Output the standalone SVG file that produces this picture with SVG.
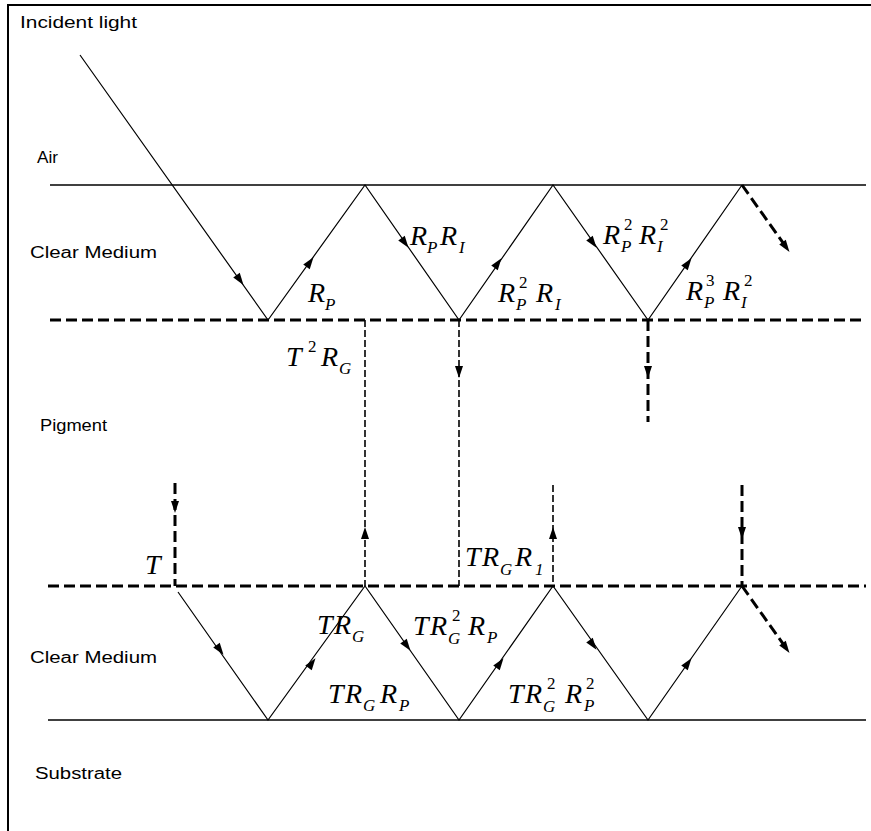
<svg xmlns="http://www.w3.org/2000/svg" xmlns:xlink="http://www.w3.org/1999/xlink" width="871" height="831" viewBox="0 0 871 831">
<style>
.t{font-family:"Liberation Sans",Arial,sans-serif;font-size:16px;fill:#000}
.m{font-family:"Liberation Serif","Times New Roman",serif;font-style:italic;font-size:28px;fill:#000}
.s{font-family:"Liberation Serif","Times New Roman",serif;font-style:italic;font-size:17px;fill:#000}
.sup{font-family:"Liberation Serif","Times New Roman",serif;font-size:17px;fill:#000}
.solid{stroke:#000;stroke-width:1.6;fill:none}
.ray{stroke:#000;stroke-width:1.2;fill:none}
.thick{stroke:#000;stroke-width:3;stroke-dasharray:11 5;fill:none}
.thin{stroke:#000;stroke-width:1.6;stroke-dasharray:7 3;fill:none}
</style>
<defs>
<path id="ah" d="M6,0 L-6,-4 L-6,4 Z" fill="#000"/>
</defs>
<rect width="871" height="831" fill="#fff"/>
<g id="frame">
<path d="M7,5 H871 M8,5 V831" stroke="#000" stroke-width="2" fill="none"/>
</g>
<g id="layers">
<line class="solid" x1="50" y1="185" x2="866" y2="185"/>
<line class="thick" x1="50" y1="320" x2="866" y2="320"/>
<line class="thick" x1="48" y1="586" x2="866" y2="586"/>
<line class="solid" x1="48" y1="720" x2="866" y2="720"/>
</g>
<g id="layer-names">
<text class="t" x="20" y="28" textLength="117" lengthAdjust="spacingAndGlyphs">Incident light</text>
<text class="t" x="37" y="163" textLength="21" lengthAdjust="spacingAndGlyphs">Air</text>
<text class="t" x="30" y="258" textLength="127" lengthAdjust="spacingAndGlyphs">Clear Medium</text>
<text class="t" x="40" y="431" textLength="67" lengthAdjust="spacingAndGlyphs">Pigment</text>
<text class="t" x="30" y="663" textLength="127" lengthAdjust="spacingAndGlyphs">Clear Medium</text>
<text class="t" x="35" y="779" textLength="87" lengthAdjust="spacingAndGlyphs">Substrate</text>
</g>
<g id="connectors">
<polyline class="ray" points="80,55 268,320 365,185 459,320 553,185 648,320 742,185"/>
<line class="thick" x1="742" y1="185" x2="786" y2="247" stroke-dasharray="8 4"/>
<line class="thin" x1="365" y1="320" x2="365" y2="586"/>
<line class="thin" x1="459" y1="320" x2="459" y2="586"/>
<line class="thick" x1="648" y1="320" x2="648" y2="422" stroke-dasharray="9 4"/>
<line class="thick" x1="175" y1="483" x2="175" y2="586" stroke-dasharray="9 4"/>
<line class="thin" x1="553" y1="485" x2="553" y2="586"/>
<line class="thick" x1="742" y1="485" x2="742" y2="586" stroke-dasharray="9 4"/>
<polyline class="ray" points="178,592 268,720 365,586 459,720 553,586 648,720 742,586"/>
<line class="thick" x1="742" y1="586" x2="786" y2="648" stroke-dasharray="8 4"/>
</g>
<g id="arrowheads">
<use xlink:href="#ah" transform="translate(240,280) rotate(54.5)"/>
<use xlink:href="#ah" transform="translate(310,262) rotate(-54.3)"/>
<use xlink:href="#ah" transform="translate(405,243) rotate(54.3)"/>
<use xlink:href="#ah" transform="translate(498,263) rotate(-54.3)"/>
<use xlink:href="#ah" transform="translate(593,243) rotate(54.3)"/>
<use xlink:href="#ah" transform="translate(688,263) rotate(-54.3)"/>
<use xlink:href="#ah" transform="translate(786,247) rotate(54.6)"/>
<use xlink:href="#ah" transform="translate(459,372) rotate(90)"/>
<use xlink:href="#ah" transform="translate(648,372) rotate(90)"/>
<use xlink:href="#ah" transform="translate(365,533) rotate(-90)"/>
<use xlink:href="#ah" transform="translate(553,533) rotate(-90)"/>
<use xlink:href="#ah" transform="translate(175,507) rotate(90)"/>
<use xlink:href="#ah" transform="translate(742,533) rotate(90)"/>
<use xlink:href="#ah" transform="translate(220,650) rotate(54.3)"/>
<use xlink:href="#ah" transform="translate(312,663) rotate(-54.3)"/>
<use xlink:href="#ah" transform="translate(407,646) rotate(54.3)"/>
<use xlink:href="#ah" transform="translate(500,663) rotate(-54.3)"/>
<use xlink:href="#ah" transform="translate(593,645) rotate(54.3)"/>
<use xlink:href="#ah" transform="translate(688,663) rotate(-54.3)"/>
<use xlink:href="#ah" transform="translate(786,648) rotate(54.6)"/>
</g>
<g id="labels">
<g id="lbl-rp"><text class="m" x="308" y="302">R</text><text class="s" x="325" y="310">P</text></g>
<g id="lbl-rpri"><text class="m" x="410" y="245">R</text><text class="s" x="427" y="253">P</text><text class="m" x="440" y="245">R</text><text class="s" x="459" y="253">I</text></g>
<g id="lbl-rp2ri"><text class="m" x="498" y="302">R</text><text class="sup" x="519" y="288">2</text><text class="s" x="516" y="310">P</text><text class="m" x="536" y="302">R</text><text class="s" x="555" y="310">I</text></g>
<g id="lbl-rp2ri2"><text class="m" x="603" y="244">R</text><text class="sup" x="624" y="230">2</text><text class="s" x="621" y="252">P</text><text class="m" x="639" y="244">R</text><text class="sup" x="660" y="230">2</text><text class="s" x="657" y="252">I</text></g>
<g id="lbl-rp3ri2"><text class="m" x="686" y="300">R</text><text class="sup" x="706" y="286">3</text><text class="s" x="704" y="308">P</text><text class="m" x="723" y="300">R</text><text class="sup" x="744" y="286">2</text><text class="s" x="741" y="308">I</text></g>
<g id="lbl-t2rg"><text class="m" x="286" y="366">T</text><text class="sup" x="308" y="352">2</text><text class="m" x="321" y="366">R</text><text class="s" x="339" y="374">G</text></g>
<g id="lbl-t"><text class="m" x="145" y="574">T</text></g>
<g id="lbl-trgr1"><text class="m" x="465" y="566">T</text><text class="m" x="482" y="566">R</text><text class="s" x="500" y="575">G</text><text class="m" x="515" y="566">R</text><text class="s" x="535" y="575">1</text></g>
<g id="lbl-trg"><text class="m" x="317" y="634">T</text><text class="m" x="334" y="634">R</text><text class="s" x="352" y="642">G</text></g>
<g id="lbl-trg2rp"><text class="m" x="413" y="635">T</text><text class="m" x="430" y="635">R</text><text class="sup" x="452" y="621">2</text><text class="s" x="448" y="644">G</text><text class="m" x="468" y="635">R</text><text class="s" x="487" y="643">P</text></g>
<g id="lbl-trgrp"><text class="m" x="328" y="703">T</text><text class="m" x="345" y="703">R</text><text class="s" x="363" y="711">G</text><text class="m" x="380" y="703">R</text><text class="s" x="399" y="711">P</text></g>
<g id="lbl-trg2rp2"><text class="m" x="508" y="703">T</text><text class="m" x="525" y="703">R</text><text class="sup" x="547" y="689">2</text><text class="s" x="543" y="712">G</text><text class="m" x="565" y="703">R</text><text class="sup" x="586" y="689">2</text><text class="s" x="584" y="711">P</text></g>
</g>
</svg>
